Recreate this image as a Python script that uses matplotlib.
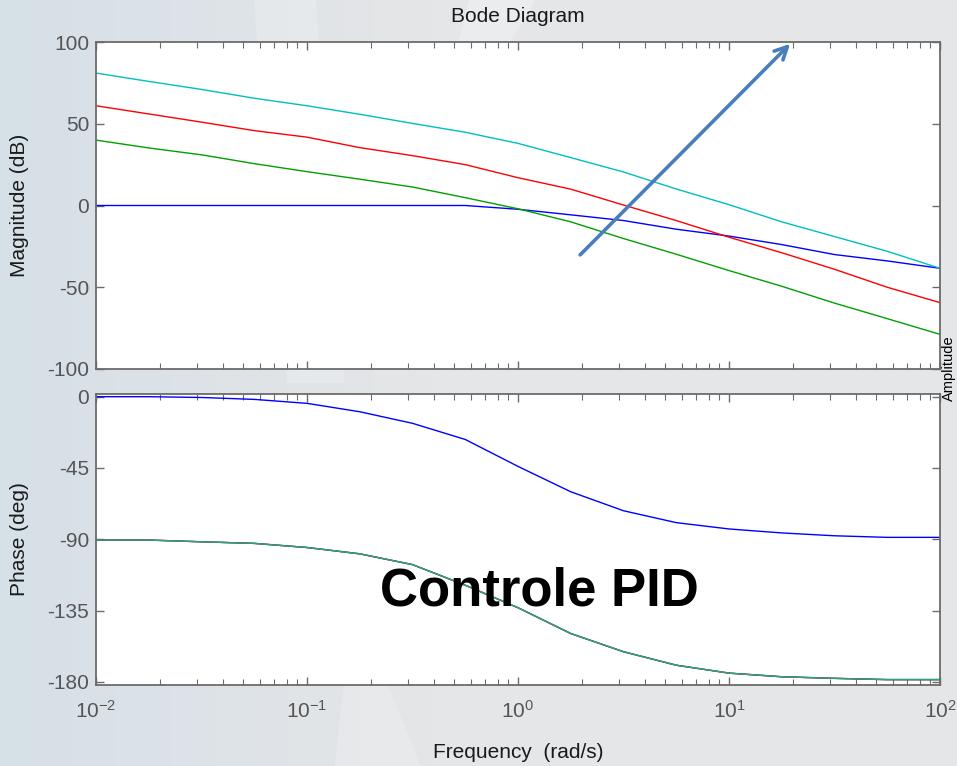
import numpy as np
import matplotlib
matplotlib.use("Agg")
import matplotlib.pyplot as plt
from matplotlib.patches import Polygon

# ---------------- data ----------------
freq = [0.01, 0.01778, 0.03162, 0.05623, 0.1, 0.1778, 0.3162, 0.5623, 1.0,
        1.778, 3.162, 5.623, 10.0, 17.78, 31.62, 56.23, 100.0]

mag_blue  = [0, 0, 0, 0, 0, 0, 0, 0, -2.3, -5.7, -9.2, -14.5, -18.7, -23.9, -30.0, -33.9, -38.4]
mag_green = [40.0, 35.2, 31.0, 25.6, 20.7, 16.1, 11.3, 4.8, -2.0, -10.0, -20.2, -29.8, -39.8, -49.4, -59.7, -69.2, -78.8]
mag_red   = [61.0, 56.0, 51.0, 45.8, 41.8, 35.4, 30.5, 25.0, 17.0, 10.0, 0.3, -9.2, -19.4, -28.9, -39.0, -50.0, -59.4]
mag_cyan  = [81.0, 75.9, 71.0, 65.6, 61.0, 55.8, 50.2, 44.8, 38.0, 29.3, 20.5, 10.1, 0.5, -10.0, -19.0, -28.0, -38.4]

phase_blue = [0, 0, -0.5, -1.7, -4.2, -9.5, -16.8, -27.0, -44.0, -60.0, -72.0, -79.5, -83.5, -86.0, -87.8, -88.8, -88.8]
phase_int  = [-90.5, -90.5, -91.6, -92.6, -95.2, -99.2, -106.0, -119.0, -133.2, -149.5, -161.0, -169.5, -174.5, -176.8, -177.8, -178.6, -178.6]

mag_ticks = [-100, -50, 0, 50, 100]
phase_ticks = [-180, -135, -90, -45, 0]

# arrow annotation (data coords of magnitude plot)
arrow_start = (1.97, -30.2)
arrow_end = (19.5, 98.9)

W, H = 957, 766
plt.rcParams['font.family'] = ['Liberation Sans', 'DejaVu Sans']
plt.rcParams['mathtext.default'] = 'regular'
plt.rcParams['axes.unicode_minus'] = False
fig = plt.figure(figsize=(W / 100, H / 100), dpi=100)

# ---------------- slide-like background ----------------
bg = fig.add_axes([0, 0, 1, 1], zorder=-10)
xs = np.linspace(0, 1, 200)
c_left = np.array([214, 224, 231]) / 255
c_right = np.array([229, 230, 232]) / 255
t = np.clip(xs / 0.45, 0, 1)[None, :, None]
grad = c_left[None, None, :] * (1 - t) + c_right[None, None, :] * t
grad = np.repeat(grad, 2, axis=0)
bg.imshow(grad, aspect='auto', extent=[0, 1, 0, 1], origin='lower')
bg.add_patch(Polygon([[0.265, 1.0], [0.33, 1.0], [0.36, 0.5], [0.30, 0.5]],
                     closed=True, color='white', alpha=0.2, lw=0))
bg.add_patch(Polygon([[0.49, 1.0], [0.56, 1.0], [0.50, 0.88], [0.47, 0.9]],
                     closed=True, color='white', alpha=0.25, lw=0))
bg.add_patch(Polygon([[0.35, 0.0], [0.44, 0.0], [0.40, 0.12], [0.36, 0.12]],
                     closed=True, color='white', alpha=0.18, lw=0))
bg.set_xlim(0, 1)
bg.set_ylim(0, 1)
bg.axis('off')

spine_c = '#6b6b6b'
tick_c = '#555555'

ax1 = fig.add_axes([96 / W, 1 - 369 / H, 844 / W, 327 / H])
ax2 = fig.add_axes([96 / W, 1 - 685 / H, 844 / W, 291 / H])

ax1.semilogx(freq, mag_blue, color='#0000ff', lw=1.0)
ax1.semilogx(freq, mag_green, color='#00a000', lw=1.0)
ax1.semilogx(freq, mag_red, color='#ff0000', lw=1.0)
ax1.semilogx(freq, mag_cyan, color='#00bfbf', lw=1.0)

ax2.semilogx(freq, phase_blue, color='#0000ff', lw=1.0)
ax2.semilogx(freq, phase_int, color='#00a000', lw=1.0)
ax2.semilogx(freq, phase_int, color='#ff0000', lw=1.0)
ax2.semilogx(freq, phase_int, color='#1aa89c', lw=1.0)

ax1.set_ylim(-100, 100)
ax1.set_yticks(mag_ticks)
ax2.set_ylim(-182, 1.7)
ax2.set_yticks(phase_ticks)

for ax in (ax1, ax2):
    ax.set_xlim(0.01, 100)
    ax.set_facecolor('white')
    for s in ax.spines.values():
        s.set_color(spine_c)
        s.set_linewidth(1.3)
    ax.tick_params(which='both', direction='in', top=True, right=True,
                   colors=spine_c, labelcolor=tick_c, labelsize=15)
    ax.tick_params(which='major', length=6, width=1.0, pad=5)
    ax.tick_params(which='minor', length=4, width=0.8)
    ax.tick_params(axis='y', which='minor', left=False, right=False)

ax1.tick_params(axis='x', labelbottom=False)
ax2.tick_params(axis='x', pad=11)

ax1.set_ylabel('Magnitude (dB)', fontsize=15, color='#1a1a1a', va='center')
ax1.yaxis.set_label_coords((20 - 96) / 844, 0.5)
ax2.set_ylabel('Phase (deg)', fontsize=15, color='#1a1a1a', va='center')
ax2.yaxis.set_label_coords((20 - 96) / 844, 0.5)
ax2.set_xlabel('Frequency  (rad/s)', fontsize=15, color='#1a1a1a', va='center')
ax2.xaxis.set_label_coords(0.5, (685 - 752) / 291)

fig.text(518 / W, 1 - 16 / H, 'Bode Diagram', fontsize=15, color='#1a1a1a',
         ha='center', va='center')

ax1.annotate('', xy=arrow_end, xytext=arrow_start, xycoords='data',
             arrowprops=dict(arrowstyle='->,head_length=0.9,head_width=0.45',
                             color='#4a7ebb', lw=2.6, shrinkA=0, shrinkB=0),
             annotation_clip=False)

fig.text(539 / W, 1 - 592 / H, 'Controle PID', fontsize=38, fontweight='bold',
         color='black', ha='center', va='center')

fig.text(949 / W, 1 - 368 / H, 'Amplitude', fontsize=10.5, color='black',
         rotation=90, ha='center', va='center')

fig.savefig('out.png', dpi=100)
